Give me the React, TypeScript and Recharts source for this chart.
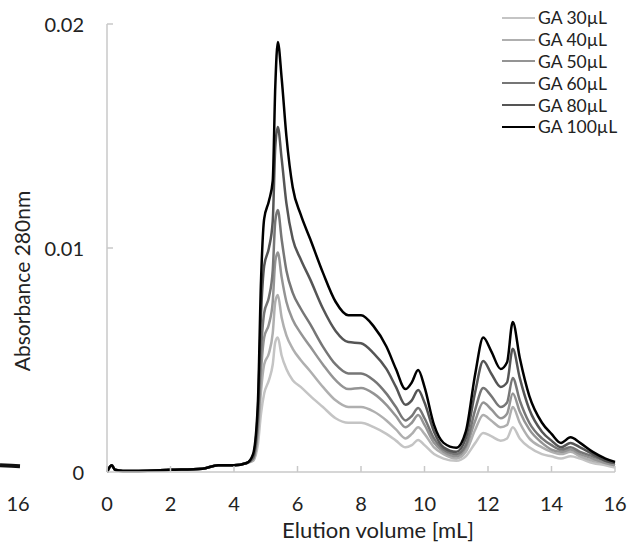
import { Line, LineChart, XAxis, YAxis } from "recharts";

const volume = [
  0, 0.15, 0.25, 0.5, 1, 2, 3, 3.5, 4, 4.4, 4.6, 4.75, 4.85, 4.95, 5.1, 5.22, 5.3, 5.38, 5.5, 5.65, 5.85,
  6.1, 6.4, 6.8, 7.2, 7.6, 8.0, 8.4, 8.8, 9.1, 9.4, 9.6, 9.8, 10.0, 10.3, 10.6, 11.0, 11.3, 11.6, 11.85,
  12.1, 12.4, 12.6, 12.78, 13.0, 13.3, 13.7, 14.0, 14.3, 14.6, 14.9, 15.3, 15.7, 16,
];

const ga100 = [
  0, 0.0003, 0.0001, 0.00005, 0.00005, 0.0001, 0.00015, 0.0003, 0.0003, 0.0004, 0.0008, 0.003, 0.0085, 0.0113,
  0.0121, 0.013, 0.0172, 0.0192, 0.0176, 0.015, 0.0127, 0.0115, 0.0104, 0.0089, 0.0076, 0.007, 0.007, 0.0065,
  0.0056, 0.0046, 0.0037, 0.004, 0.00455, 0.0038, 0.0021, 0.0013, 0.00108, 0.0018, 0.0044, 0.006, 0.0054,
  0.0046, 0.0049, 0.0067, 0.0051, 0.0034, 0.0022, 0.0017, 0.0013, 0.00155, 0.0013, 0.0009, 0.0006, 0.00045,
];
const ga80 = [
  0, 0.0003, 0.0001, 0.00005, 0.00005, 0.0001, 0.00015, 0.0003, 0.0003, 0.0004, 0.0007, 0.0027, 0.007, 0.0092,
  0.01, 0.0112, 0.0145, 0.0154, 0.014, 0.012, 0.0104, 0.0095, 0.0086, 0.0073, 0.0063, 0.0058, 0.00575, 0.0053,
  0.0046, 0.0038, 0.003, 0.0032, 0.00366, 0.0031, 0.0018, 0.0011, 0.0009, 0.0015, 0.0036, 0.00495, 0.0044,
  0.0038, 0.004, 0.0055, 0.0042, 0.0028, 0.0018, 0.0014, 0.0011, 0.0013, 0.0011, 0.0008, 0.0005, 0.0004,
];
const ga60 = [
  0, 0.0003, 0.0001, 0.00005, 0.00005, 0.0001, 0.00015, 0.0003, 0.0003, 0.0004, 0.0006, 0.0022, 0.0054, 0.0071,
  0.0078, 0.009, 0.0112, 0.0117, 0.0104, 0.009, 0.008, 0.0073, 0.0066, 0.0056, 0.0048, 0.0044, 0.0044, 0.0041,
  0.0035, 0.0029, 0.0023, 0.0025, 0.00286, 0.0024, 0.0015, 0.001, 0.0008, 0.0012, 0.0028, 0.00375, 0.0034,
  0.0029, 0.0031, 0.0042, 0.0032, 0.0022, 0.0015, 0.0012, 0.001, 0.0011, 0.0009, 0.0007, 0.0005, 0.0004,
];
const ga50 = [
  0, 0.0003, 0.0001, 0.00005, 0.00005, 0.0001, 0.00015, 0.0003, 0.0003, 0.0004, 0.0006, 0.0019, 0.0045, 0.006,
  0.0066, 0.0076, 0.0094, 0.0098, 0.0087, 0.0076, 0.0068, 0.0062, 0.0056, 0.0048, 0.0041, 0.0037, 0.00375, 0.0035,
  0.003, 0.0025, 0.002, 0.0022, 0.00254, 0.0021, 0.0013, 0.0009, 0.0007, 0.0011, 0.0023, 0.0031, 0.0028,
  0.0024, 0.0026, 0.0035, 0.0027, 0.0019, 0.0013, 0.001, 0.0009, 0.001, 0.0008, 0.0006, 0.0004, 0.0003,
];
const ga40 = [
  0, 0.0003, 0.0001, 0.00005, 0.00005, 0.0001, 0.00015, 0.0003, 0.0003, 0.0004, 0.0005, 0.0016, 0.0036, 0.0048,
  0.0053, 0.0062, 0.0076, 0.0079, 0.0069, 0.0061, 0.0055, 0.005, 0.0045, 0.0038, 0.0032, 0.0029, 0.0029, 0.0027,
  0.0023, 0.0019, 0.0015, 0.0017, 0.002, 0.0017, 0.0011, 0.0008, 0.0006, 0.0009, 0.0019, 0.00254, 0.0023,
  0.002, 0.0021, 0.0029, 0.0022, 0.0015, 0.0011, 0.0009, 0.0008, 0.0009, 0.0007, 0.0005, 0.0004, 0.0003,
];
const ga30 = [
  0, 0.0003, 0.0001, 0.00005, 0.00005, 0.0001, 0.00015, 0.0003, 0.0003, 0.0004, 0.0005, 0.0012, 0.0026, 0.0035,
  0.0041, 0.0048, 0.0058, 0.006, 0.0052, 0.0046, 0.0041, 0.0038, 0.0034, 0.0029, 0.0024, 0.0022, 0.0022, 0.002,
  0.0017, 0.0014, 0.0011, 0.0012, 0.00143, 0.0012, 0.0008, 0.0006, 0.0005, 0.0007, 0.0013, 0.00174, 0.0016,
  0.0014, 0.0015, 0.002, 0.0015, 0.0011, 0.0008, 0.0007, 0.0006, 0.0007, 0.0006, 0.0004, 0.0003, 0.0002,
];

const xTicks = [0, 2, 4, 6, 8, 10, 12, 14, 16];
const yTicks = [0, 0.01, 0.02];

// tail of the neighbouring chart that is cut off on the left
const prevVolume = [15.3, 15.7, 16];
const prevValues = [0.0003, 0.00028, 0.00026];

const series = [
  { key: "ga30", name: "GA 30\u00b5L", color: "#c4c4c4" },
  { key: "ga40", name: "GA 40\u00b5L", color: "#afafaf" },
  { key: "ga50", name: "GA 50\u00b5L", color: "#949494" },
  { key: "ga60", name: "GA 60\u00b5L", color: "#767676" },
  { key: "ga80", name: "GA 80\u00b5L", color: "#555555" },
  { key: "ga100", name: "GA 100\u00b5L", color: "#000000" },
];

const data = volume.map((v, i) => ({
  v,
  ga100: ga100[i],
  ga80: ga80[i],
  ga60: ga60[i],
  ga50: ga50[i],
  ga40: ga40[i],
  ga30: ga30[i],
}));

const prevData = prevVolume.map((v, i) => ({ v, a: prevValues[i] }));

const FONT = "Lato, 'Open Sans', sans-serif";
const W = 631;
const H = 544;
const LEFT = 107;
const BOTTOM = 472;

const XTick = ({ x, payload }: any) => (
  <g>
    <line x1={x} x2={x} y1={BOTTOM} y2={BOTTOM - 6} stroke="#c8c8c8" strokeWidth={1.5} />
    <text x={x} y={503} textAnchor="middle" dominantBaseline="central" fill="#222" fontSize={20} fontFamily={FONT}>
      {payload.value}
    </text>
  </g>
);

const YTick = ({ y, payload }: any) => (
  <g>
    {payload.value !== 0 && (
      <line x1={LEFT} x2={LEFT + 6} y1={y} y2={y} stroke="#c8c8c8" strokeWidth={1.5} />
    )}
    <text x={84} y={y} textAnchor="end" dominantBaseline="central" fill="#222" fontSize={20} fontFamily={FONT}>
      {payload.value}
    </text>
  </g>
);

const PrevTick = ({ x, payload }: any) => (
  <text x={x - 2} y={503} textAnchor="middle" dominantBaseline="central" fill="#222" fontSize={20} fontFamily={FONT}>
    {payload.value}
  </text>
);

export default function App() {
  return (
    <div style={{ position: "fixed", left: 0, top: 0, width: W, height: H, background: "#fff" }}>
      <div style={{ position: "absolute", left: 0, top: 0 }}>
        <LineChart width={40} height={H} data={prevData} margin={{ top: 24, right: 20, bottom: 12, left: 0 }}>
          <XAxis dataKey="v" type="number" domain={[15.3, 16]} ticks={[16]} height={60} axisLine={false} tickLine={false} tick={<PrevTick />} />
          <YAxis hide domain={[0, 0.02]} />
          <Line dataKey="a" stroke="#111" strokeWidth={4} dot={false} isAnimationActive={false} />
        </LineChart>
      </div>
      <div style={{ position: "absolute", left: 0, top: 0 }}>
        <LineChart width={W} height={H} data={data} margin={{ top: 24, right: 16, bottom: 12, left: 0 }}>
          <XAxis
            dataKey="v"
            type="number"
            domain={[0, 16]}
            ticks={xTicks}
            height={60}
            stroke="#c8c8c8"
            strokeWidth={1.5}
            tickLine={false}
            tick={<XTick />}
            label={{ value: "Elution volume [mL]", position: "insideBottom", offset: -6, dx: 17, fontSize: 22, fontFamily: FONT, fill: "#222" }}
          />
          <YAxis
            type="number"
            domain={[0, 0.02]}
            ticks={yTicks}
            width={LEFT}
            stroke="#c8c8c8"
            strokeWidth={1.5}
            tickLine={false}
            tick={<YTick />}
            label={{ value: "Absorbance 280nm", angle: -90, position: "insideLeft", offset: 23, dy: 33, fontSize: 21, fontFamily: FONT, fill: "#222", style: { textAnchor: "middle" } }}
          />
          {series.map((s) => (
            <Line
              key={s.key}
              dataKey={s.key}
              name={s.name}
              type="monotone"
              stroke={s.color}
              strokeWidth={2.5}
              dot={false}
              isAnimationActive={false}
            />
          ))}
        </LineChart>
      </div>
      <div style={{ position: "absolute", top: 7, left: 502, fontFamily: FONT, fontSize: 17.5, color: "#222" }}>
        {series.map((s) => (
          <div key={s.key} style={{ display: "flex", alignItems: "center", height: 21.8 }}>
            <span style={{ display: "inline-block", width: 33, height: 0, borderTop: `2.5px solid ${s.color}`, marginRight: 3 }} />
            <span>{s.name}</span>
          </div>
        ))}
      </div>
    </div>
  );
}
